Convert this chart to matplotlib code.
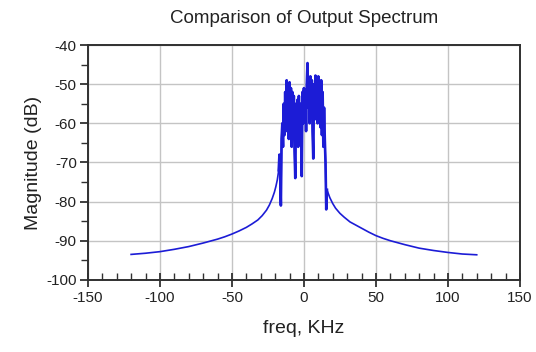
import matplotlib.pyplot as plt
import matplotlib as mpl
from matplotlib.ticker import MultipleLocator

mpl.rcParams["axes.unicode_minus"] = False
mpl.rcParams["font.family"] = ["Liberation Sans", "DejaVu Sans"]

BLUE = "#1c1cd6"
SPINE = "#303030"
GRID = "#c4c4c4"

# left skirt (kHz, dB)
left_freq = [-120, -110, -100, -90, -80, -70, -60, -55, -50, -45, -40, -36, -32, -29,
             -26, -24, -22, -20.5, -19.5, -18.5]
left_db = [-93.5, -93.2, -92.8, -92.2, -91.5, -90.6, -89.6, -89.0, -88.3, -87.5, -86.6, -85.7,
           -84.7, -83.6, -82.2, -80.9, -79.2, -77.6, -76.2, -74.5]

band_freq = [-17.5, -17.0, -16.5, -16.0, -15.5, -15.0, -14.5, -14.0, -13.5, -13.0,
             -12.5, -12.0, -11.5, -11.0, -10.5, -10.0, -9.5, -9.0, -8.5, -8.0,
             -7.5, -7.0, -6.5, -6.0, -5.5, -5.0, -4.5, -4.0, -3.5, -3.0,
             -2.5, -2.0, -1.5, -1.0, -0.5, 0.0, 0.5, 1.0, 1.5, 2.0,
             2.5, 3.0, 3.5, 4.0, 4.5, 5.0, 5.5, 6.0, 6.5, 7.0,
             7.5, 8.0, 8.5, 9.0, 9.5, 10.0, 10.5, 11.0, 11.5, 12.0,
             12.5, 13.0, 13.5, 14.0, 14.5, 15.0, 15.5, 16.0]
band_db = [-72, -68, -73, -81, -64, -60, -66, -55, -63, -52,
           -62, -49, -60, -50, -64, -49.5, -62, -51, -66, -52,
           -63, -53, -67, -74, -55, -64, -54, -66, -53, -64,
           -55, -62, -73.5, -52, -60, -51, -58, -52, -62, -50,
           -44.6, -56, -51, -60, -48, -58, -49, -62, -69, -50,
           -59, -47.8, -57, -49, -60, -48, -58, -50, -61, -49,
           -63, -52, -66, -56, -64, -70, -82, -77]

# right skirt (kHz, dB)
right_freq = [16.5, 18, 20, 22, 25, 28, 32, 36, 40, 45, 50, 55, 60, 70, 80, 90, 100, 110, 120]
right_db = [-77.5, -79.0, -80.5, -81.7, -83.0, -84.0, -85.2, -86.0, -86.8, -87.8, -88.7, -89.4,
            -90.0, -91.0, -91.9, -92.5, -93.0, -93.4, -93.6]

freq = left_freq + band_freq + right_freq
mag = left_db + band_db + right_db

fig = plt.figure(figsize=(5.36, 3.52), dpi=100)
ax = fig.add_axes([0.164, 0.205, 0.806, 0.667])

ax.plot(freq, mag, color=BLUE, linewidth=1.2)
# the occupied band is drawn heavier, as in the original trace
ax.plot(band_freq, band_db, color=BLUE, linewidth=1.9)

ax.set_xlim(-150, 150)
ax.set_ylim(-100, -40)
ax.xaxis.set_major_locator(MultipleLocator(50))
ax.xaxis.set_minor_locator(MultipleLocator(10))
ax.yaxis.set_major_locator(MultipleLocator(10))
ax.yaxis.set_minor_locator(MultipleLocator(5))

ax.grid(True, which="major", color=GRID, linewidth=1.0)
ax.set_axisbelow(True)

for s in ax.spines.values():
    s.set_color(SPINE)
    s.set_linewidth(1.4)

ax.tick_params(axis="x", which="major", direction="inout", length=10, width=1.3,
               colors=SPINE, labelsize=11, pad=3, labelcolor="#222222")
ax.tick_params(axis="x", which="minor", direction="in", length=5, width=1.0, colors=SPINE)
ax.tick_params(axis="y", which="major", direction="out", length=6, width=1.3,
               colors=SPINE, labelsize=11, pad=2, labelcolor="#222222")
ax.tick_params(axis="y", which="minor", direction="out", length=5, width=1.0, colors=SPINE)

ax.set_title("Comparison of Output Spectrum", fontsize=13.5, color="#222222", pad=16)
ax.set_xlabel("freq, KHz", fontsize=14, color="#222222", labelpad=11)
ax.set_ylabel("Magnitude (dB)", fontsize=14, color="#222222", labelpad=3)

fig.savefig("out.png", dpi=100, facecolor="white")
